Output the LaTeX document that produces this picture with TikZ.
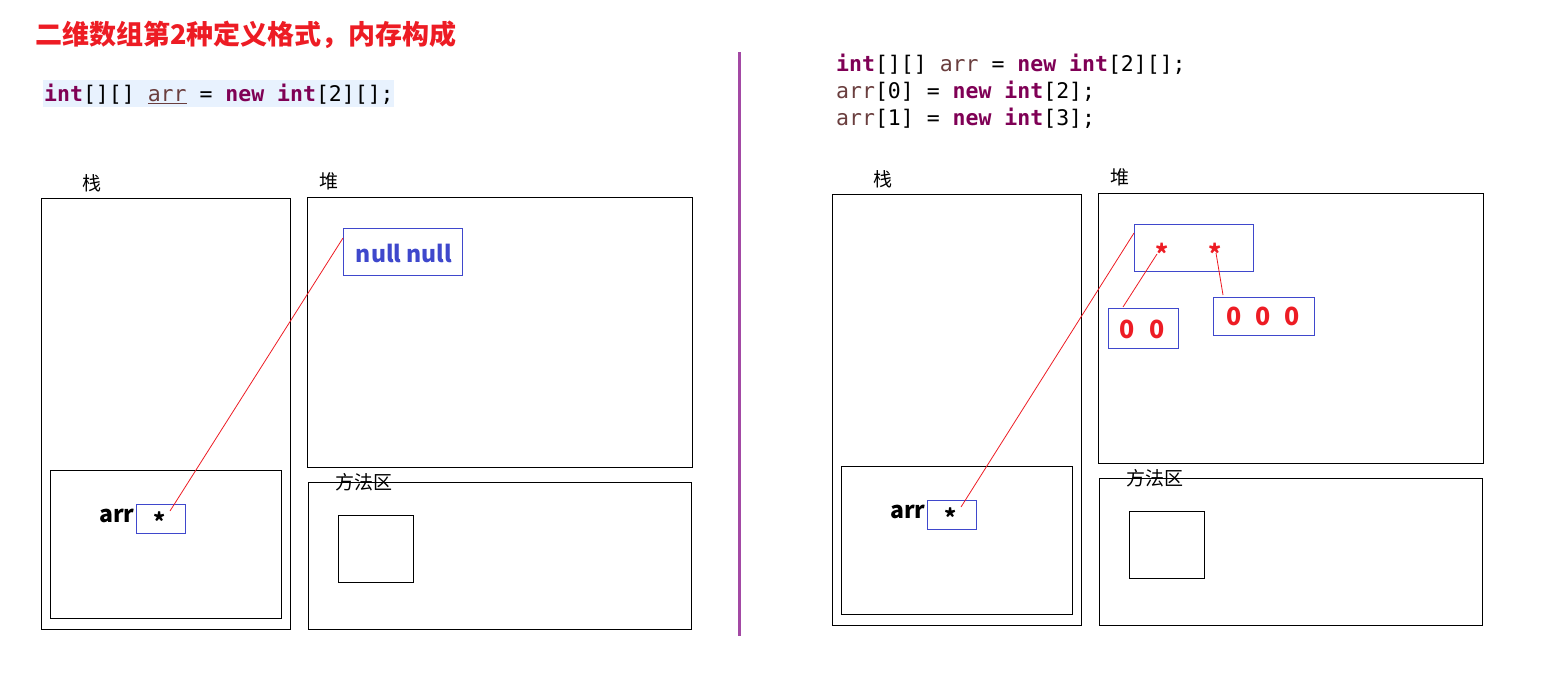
\documentclass[tikz,border=0pt]{standalone}
\usepackage{fontspec}
\setmainfont{Noto Sans}
\newfontfamily\cjk{Noto Sans CJK SC}
\newfontfamily\codefont{DejaVu Sans Mono}
\definecolor{kw}{HTML}{7F0055}
\definecolor{varc}{HTML}{6A3E3E}
\definecolor{redc}{HTML}{ED1C24}
\definecolor{bluec}{HTML}{3F48CC}
\definecolor{purp}{HTML}{A349A4}
\definecolor{codebg}{HTML}{E8F2FE}
\newcommand{\kwd}[1]{\textcolor{kw}{\bfseries #1}}
\newcommand{\vr}[1]{\textcolor{varc}{#1}}
\tikzset{
  area/.style={draw=black, line width=1.1pt, anchor=north west, inner sep=0pt},
  bbox/.style={draw=bluec, line width=1.1pt, anchor=north west, inner sep=0pt},
  lbl/.style={font=\cjk\fontsize{19}{20}\selectfont, inner sep=0pt},
  code/.style={font=\codefont\fontsize{21.5}{24}\selectfont, anchor=west, inner sep=0pt},
  ptr/.style={draw=redc, line width=0.8pt},
  arrlbl/.style={font=\cjk\bfseries\fontsize{23}{24}\selectfont, inner sep=0pt},
  starb/.style={font=\cjk\bfseries\fontsize{23}{24}\selectfont, inner sep=0pt},
  stard/.style={font=\cjk\bfseries\fontsize{25}{26}\selectfont, text=redc, inner sep=0pt},
  zeros/.style={font=\cjk\bfseries\fontsize{25}{26}\selectfont, text=redc, inner sep=0pt},
}
\begin{document}
\begin{tikzpicture}[x=1pt,y=-1pt]
\useasboundingbox (0,0) rectangle (1567,673);
% title
\node[anchor=west, inner sep=0pt, font=\cjk\bfseries\fontsize{27}{30}\selectfont, text=redc] (title) at (35,35) {二维数组第2种定义格式，内存构成};
% left code
\node[fill=codebg, anchor=north west, minimum width=351pt, minimum height=27pt, inner sep=0pt] (codebgL) at (43,80) {};
\node[code] (codeL) at (44,94) {\kwd{int}[][] \textcolor{varc}{\underline{arr}} = \kwd{new} \kwd{int}[2][];};
% divider
\coordinate (divtop) at (739,52);
\coordinate (divbot) at (739,636);
\draw[purp, line width=3pt] (divtop) -- (divbot);
% right code
\node[code] (codeR1) at (836,64) {\kwd{int}[][] \vr{arr} = \kwd{new} \kwd{int}[2][];};
\node[code] (codeR2) at (836,91) {\vr{arr}[0] = \kwd{new} \kwd{int}[2];};
\node[code] (codeR3) at (836,118) {\vr{arr}[1] = \kwd{new} \kwd{int}[3];};

% ---------- left diagram ----------
\node[lbl] (stackL) at (92,183) {栈};
\node[area, minimum width=249pt, minimum height=431pt] (stackboxL) at (41,198) {};
\node[area, minimum width=231pt, minimum height=148pt] (frameL) at (50,470) {};
\node[arrlbl] (arrL) at (117,516) {arr};
\node[bbox, minimum width=49pt, minimum height=29pt] (refL) at (136,504) {};
\node[starb] (starL) at (160,521) {*};
\node[lbl] (heapL) at (329,181) {堆};
\node[area, minimum width=385pt, minimum height=270pt] (heapboxL) at (307,197) {};
\node[bbox, minimum width=119pt, minimum height=47pt] (nullbox) at (343,228) {};
\node[font=\cjk\bfseries\fontsize{23}{24}\selectfont, text=bluec, inner sep=0pt] (nulltxt) at (404,253) {null null};
\node[area, minimum width=383pt, minimum height=147pt] (methodL) at (308,482) {};
\node[lbl] (methodlblL) at (364,482) {方法区};
\node[area, minimum width=75pt, minimum height=67pt] (classL) at (338,515) {};
\coordinate (pL1) at (170,511);
\coordinate (pL2) at (343,238);
\draw[ptr] (pL1) -- (pL2);

% ---------- right diagram ----------
\node[lbl] (stackR) at (883,179) {栈};
\node[area, minimum width=249pt, minimum height=431pt] (stackboxR) at (832,194) {};
\node[area, minimum width=231pt, minimum height=148pt] (frameR) at (841,466) {};
\node[arrlbl] (arrR) at (908,512) {arr};
\node[bbox, minimum width=49pt, minimum height=29pt] (refR) at (927,500) {};
\node[starb] (starR) at (951,517) {*};
\node[lbl] (heapR) at (1120,177) {堆};
\node[area, minimum width=385pt, minimum height=270pt] (heapboxR) at (1098,193) {};
\node[bbox, minimum width=119pt, minimum height=47pt] (outer) at (1134,224) {};
\node[stard] (s0) at (1162,253) {*};
\node[stard] (s1) at (1215,253) {*};
\node[bbox, minimum width=70pt, minimum height=40pt] (in0) at (1108,308) {};
\node[zeros] (z0) at (1142,329) {0\hspace{14pt}0};
\node[bbox, minimum width=101pt, minimum height=38pt] (in1) at (1213,297) {};
\node[zeros] (z1) at (1263,316) {0\hspace{14pt}0\hspace{14pt}0};
\node[area, minimum width=383pt, minimum height=147pt] (methodR) at (1099,478) {};
\node[lbl] (methodlblR) at (1155,478) {方法区};
\node[area, minimum width=75pt, minimum height=67pt] (classR) at (1129,511) {};
\coordinate (pR1) at (961,507);
\coordinate (pR2) at (1134,233);
\draw[ptr] (pR1) -- (pR2);
\coordinate (q01) at (1157,254);
\coordinate (q02) at (1123,307);
\draw[ptr] (q01) -- (q02);
\coordinate (q11) at (1216,253);
\coordinate (q12) at (1223,295);
\draw[ptr] (q11) -- (q12);
\end{tikzpicture}
\end{document}
